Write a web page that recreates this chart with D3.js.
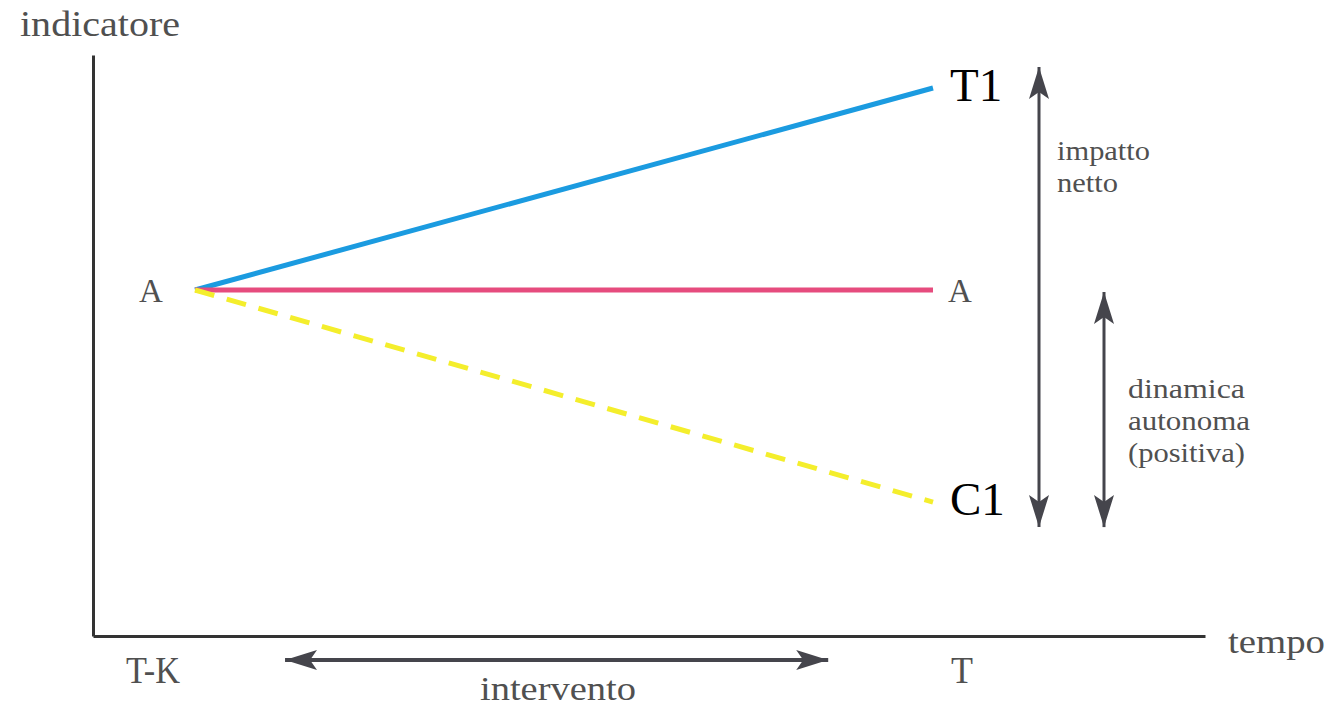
<!DOCTYPE html>
<html>
<head>
<meta charset="utf-8">
<script src="https://cdn.jsdelivr.net/npm/d3@7"></script>
<style>
  body { margin: 0; background: #fff; }
  svg, text, tspan { font-family: "Liberation Serif", "DejaVu Serif", serif; }
</style>
</head>
<body>
<svg id="chart" width="1334" height="706" font-family="Liberation Serif, DejaVu Serif, serif"></svg>
<script>
'use strict';

// time points (x) and indicator values (y), A = starting level
var timePoints = [0, 1];
var timeLabels = ['T-K', 'T'];
var treated = [0, 2.0];        // A -> T1
var noChange = [0, 0];         // A -> A
var control = [0, -2.1];       // A -> C1
var endLabels = ['T1', 'A', 'C1'];
var seriesColors = ['#1b9be0', '#e64c7e', '#f4ee2c'];

(function () {

    var svg = d3.select('#chart');

    var x = d3.scaleLinear().domain([0, 1]).range([195, 933]);
    var y = d3.scaleLinear().domain([0, 2]).range([290, 88]);

    var ink = '#45454c';
    var grey = '#505050';

    // arrow head marker
    var defs = svg.append('defs');
    defs.append('marker')
        .attr('id', 'head')
        .attr('markerUnits', 'userSpaceOnUse')
        .attr('viewBox', '0 -10 32 20')
        .attr('refX', 32)
        .attr('refY', 0)
        .attr('markerWidth', 32)
        .attr('markerHeight', 20)
        .attr('orient', 'auto-start-reverse')
        .append('path')
        .attr('d', 'M0,-10L32,0L0,10L7,0Z')
        .attr('fill', ink);

    // axes: plain lines, no ticks
    var xs = d3.scaleLinear().domain([x.invert(93), x.invert(1205)]).range([93, 1205]);
    var ys = d3.scaleLinear().domain([y.invert(636), y.invert(55)]).range([636, 55]);

    svg.append('g')
        .attr('transform', 'translate(0,636)')
        .call(d3.axisBottom(xs).tickValues([]).tickSizeOuter(0))
        .select('.domain').attr('stroke', '#333').attr('stroke-width', 3);
    svg.append('g')
        .attr('transform', 'translate(93,0)')
        .call(d3.axisLeft(ys).tickValues([]).tickSizeOuter(0))
        .select('.domain').attr('stroke', '#333').attr('stroke-width', 3);

    svg.append('text').attr('x', 20).attr('y', 36)
        .attr('font-size', 36).attr('fill', grey)
        .attr('textLength', 160).attr('lengthAdjust', 'spacingAndGlyphs')
        .text('indicatore');
    svg.append('text').attr('x', 1228).attr('y', 653)
        .attr('font-size', 34).attr('fill', grey)
        .attr('textLength', 97).attr('lengthAdjust', 'spacingAndGlyphs')
        .text('tempo');

    // lines
    var line = d3.line()
        .x(function (d, i) { return x(timePoints[i]); })
        .y(function (d) { return y(d); });

    var series = [treated, noChange, control];
    svg.selectAll('path.series')
        .data(series)
        .enter()
        .append('path')
        .attr('class', 'series')
        .attr('d', line)
        .attr('fill', 'none')
        .attr('stroke', function (d, i) { return seriesColors[i]; })
        .attr('stroke-width', 5)
        .attr('stroke-dasharray', function (d, i) { return i === 2 ? '20,13' : null; });

    // start label
    svg.append('text').attr('x', x(0) - 56).attr('y', y(0) + 12)
        .attr('font-size', 33).attr('fill', grey).text('A');

    // end labels
    svg.selectAll('text.end')
        .data(series)
        .enter()
        .append('text')
        .attr('class', 'end')
        .attr('x', function (d, i) { return x(1) + (i === 1 ? 15 : 17); })
        .attr('y', function (d, i) { return y(d[1]) + (i === 1 ? 12 : 13); })
        .attr('font-size', function (d, i) { return i === 1 ? 33 : 47; })
        .attr('fill', function (d, i) { return i === 1 ? grey : '#000'; })
        .text(function (d, i) { return endLabels[i]; });

    // vertical span arrows
    function vArrow(xp, v0, v1, pad0, pad1) {
        svg.append('line')
            .attr('x1', xp).attr('x2', xp)
            .attr('y1', y(v0) - pad0).attr('y2', y(v1) + pad1)
            .attr('stroke', ink).attr('stroke-width', 3)
            .attr('marker-start', 'url(#head)')
            .attr('marker-end', 'url(#head)');
    }
    vArrow(1039, treated[1], control[1], 21, 25);
    vArrow(1104, noChange[1], control[1], -2, 25);

    function block(lines, widths, x0, y0, step) {
        svg.append('text').attr('font-size', 27).attr('fill', grey)
            .selectAll('tspan')
            .data(lines)
            .enter()
            .append('tspan')
            .attr('x', x0)
            .attr('y', function (d, i) { return y0 + i * step; })
            .attr('textLength', function (d, i) { return widths[i]; })
            .attr('lengthAdjust', 'spacingAndGlyphs')
            .text(function (d) { return d; });
    }
    block(['impatto', 'netto'], [93, 61], 1057, 160, 32);
    block(['dinamica', 'autonoma', '(positiva)'], [117, 122, 117], 1128, 398, 32);

    // bottom time labels
    var labX = [153, 962];
    svg.selectAll('text.time')
        .data(timeLabels)
        .enter()
        .append('text')
        .attr('class', 'time')
        .attr('x', function (d, i) { return labX[i]; })
        .attr('y', 683)
        .attr('text-anchor', 'middle')
        .attr('font-size', 38)
        .attr('fill', grey)
        .attr('textLength', function (d, i) { return i === 0 ? 54 : 22; })
        .attr('lengthAdjust', 'spacingAndGlyphs')
        .text(function (d) { return d; });

    // intervention arrow
    svg.append('line')
        .attr('x1', x(0.122)).attr('x2', x(0.858))
        .attr('y1', 660).attr('y2', 660)
        .attr('stroke', ink).attr('stroke-width', 4)
        .attr('marker-start', 'url(#head)')
        .attr('marker-end', 'url(#head)');

    svg.append('text').attr('x', 558).attr('y', 700)
        .attr('text-anchor', 'middle')
        .attr('font-size', 34).attr('fill', grey)
        .attr('textLength', 156).attr('lengthAdjust', 'spacingAndGlyphs')
        .text('intervento');

})();
</script>
</body>
</html>
